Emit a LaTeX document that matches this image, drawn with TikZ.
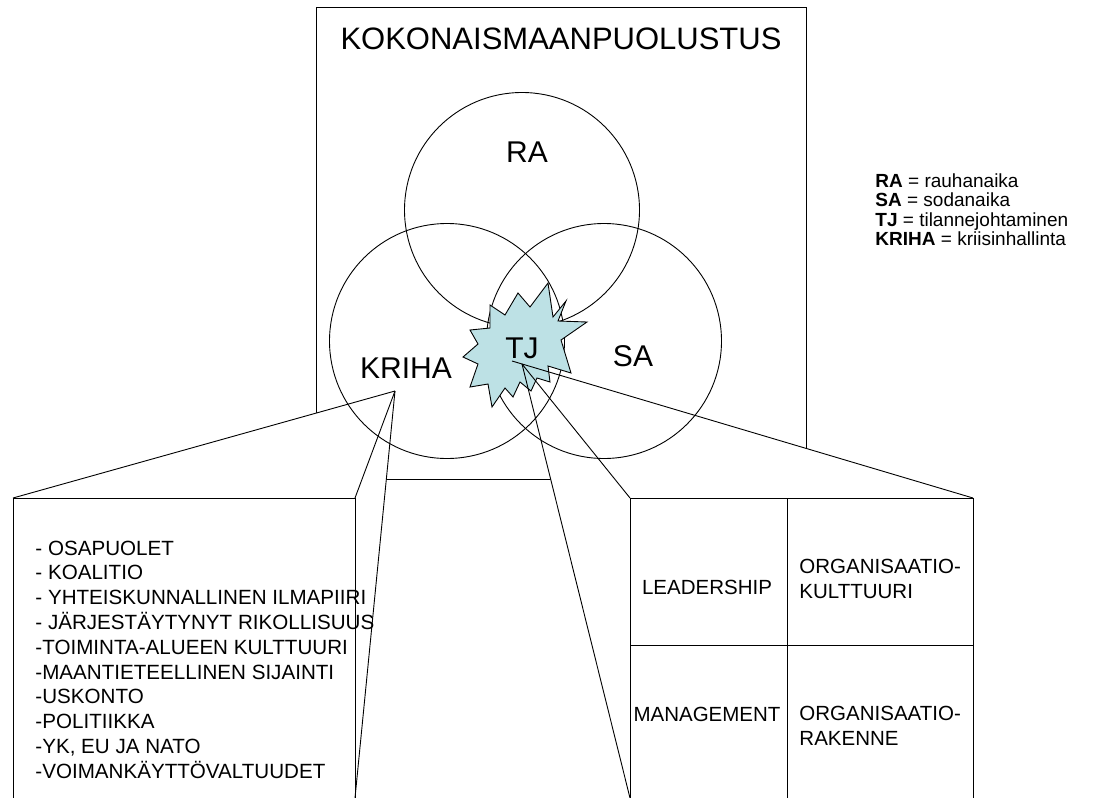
\documentclass[tikz,border=0pt]{standalone}
\usepackage{fontspec}
\setmainfont{Liberation Sans}
\definecolor{tjfill}{RGB}{189,225,229}
\begin{document}
\begin{tikzpicture}[x=1pt,y=-1pt,line width=0.9pt,
  ring/.style={circle,draw,minimum size=235pt,inner sep=0pt},
  biglabel/.style={font=\fontsize{30}{34}\selectfont,inner sep=0pt,anchor=base},
  boxtext/.style={font=\fontsize{20.6}{24.8}\selectfont,inner sep=0pt,anchor=base west},
  celltext/.style={font=\fontsize{20.5}{25}\selectfont,inner sep=0pt},
  legend/.style={font=\fontsize{19}{19.5}\selectfont,inner sep=0pt,anchor=base west},
  cover/.style={fill=white,draw=none}]
\useasboundingbox (0,0) rectangle (1098,798);

% outer frame
\draw (316,7) rectangle (806,479);

% callout anchor points
\coordinate (tipL) at (395,391);
\coordinate (tipR) at (512,361);
\coordinate (tipRb) at (522,364);
\coordinate (lbTL) at (13,498);
\coordinate (lbTR) at (355,498);
\coordinate (lbBL) at (13,798);
\coordinate (lbBR) at (355,798);
\coordinate (rbTL) at (630,498);
\coordinate (rbTR) at (973,498);
\coordinate (rbBL) at (630,798);
\coordinate (rbBR) at (973,798);

% white callout bodies hiding the frame
\path[cover] (tipL) -- (lbTL) -- (lbBL) -- (lbBR) -- cycle;
\path[cover] (tipR) -- (tipRb) -- (rbBL) -- (rbBR) -- (rbTR) -- cycle;

% circles
\node[ring] (ra) at (522,210) {};
\node[ring] (kriha) at (447,341) {};
\node[ring] (sa) at (604,341) {};

% explosion shape
\draw[fill=tjfill,line join=miter]
  (548,283) -- (553,317) -- (566,301) -- (558,321) -- (587,322) -- (561,340)
  -- (571,373) -- (548,366) -- (550,382) -- (537,378) -- (531,391) -- (520,382)
  -- (513,397) -- (505,388) -- (492,407) -- (488,384) -- (470,387) -- (478,364)
  -- (463,357) -- (478,344) -- (470,330) -- (490,328) -- (490,305) -- (505,315)
  -- (518,293) -- (530,307) -- cycle;

% callout outlines
\draw (tipL) -- (lbTL);
\draw (tipL) -- (lbTR);
\draw (tipL) -- (lbBR);
\draw (lbBL) -- (lbTL) -- (lbTR) -- (lbBR);
\draw (tipR) -- (rbTR);
\draw (tipRb) -- (rbTL);
\draw (tipRb) -- (rbBL);
\draw (rbBL) -- (rbTL) -- (rbTR) -- (rbBR);
\coordinate (rbML) at (630,645);
\coordinate (rbMR) at (973,645);
\coordinate (rbMT) at (787,498);
\coordinate (rbMB) at (787,798);
\draw (rbML) -- (rbMR);
\draw (rbMT) -- (rbMB);

% labels
\node[font=\fontsize{31}{36}\selectfont,inner sep=0pt,anchor=base] (title) at (561,49) {KOKONAISMAANPUOLUSTUS};
\node[biglabel] (raT) at (527,162) {RA};
\node[biglabel] (krihaT) at (406,378) {KRIHA};
\node[biglabel] (saT) at (633,366) {SA};
\node[biglabel] (tjT) at (522,358) {TJ};

% legend
\node[legend] (lg1) at (875,187) {\textbf{RA} = rauhanaika};
\node[legend] (lg2) at (875,206.5) {\textbf{SA} = sodanaika};
\node[legend] (lg3) at (875,226) {\textbf{TJ} = tilannejohtaminen};
\node[legend] (lg4) at (875,245.5) {\textbf{KRIHA} = kriisinhallinta};

% left box list
\foreach [count=\i] \t in {{- OSAPUOLET},{- KOALITIO},{- YHTEISKUNNALLINEN ILMAPIIRI},
  {- JÄRJESTÄYTYNYT RIKOLLISUUS},{-TOIMINTA-ALUEEN KULTTUURI},
  {-MAANTIETEELLINEN SIJAINTI},{-USKONTO},{-POLITIIKKA},{-YK, EU JA NATO},
  {-VOIMANKÄYTTÖVALTUUDET}}
  \node[boxtext] (item\i) at (35,{555+24.8*(\i-1)}) {\t};

% right box cells
\node[celltext,anchor=base] (lead) at (707,594) {LEADERSHIP};
\node[celltext,anchor=base] (mgmt) at (707,721) {MANAGEMENT};
\node[celltext,anchor=base west] (ok1) at (799,573) {ORGANISAATIO-};
\node[celltext,anchor=base west] (ok2) at (799,598) {KULTTUURI};
\node[celltext,anchor=base west] (or1) at (799,720) {ORGANISAATIO-};
\node[celltext,anchor=base west] (or2) at (799,745) {RAKENNE};
\end{tikzpicture}
\end{document}
